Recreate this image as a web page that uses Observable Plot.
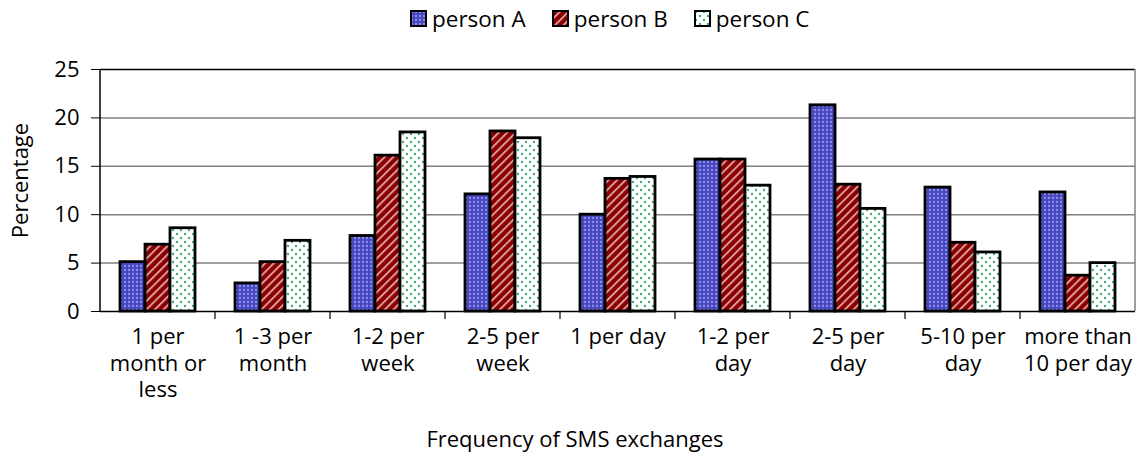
<!DOCTYPE html>
<html>
<head>
<meta charset="utf-8">
<script src="https://cdn.jsdelivr.net/npm/d3@7"></script>
<script src="https://cdn.jsdelivr.net/npm/@observablehq/plot@0.6"></script>
<style>
  html, body { margin: 0; padding: 0; background: #fff; color: #000; }
  body { width: 1142px; height: 459px; overflow: hidden; font-family: "Open Sans", sans-serif; }
  #legend { height: 36px; display: flex; align-items: center; padding-left: 410px; box-sizing: border-box; font-size: 22.5px; }
  .item { display: flex; align-items: center; margin-right: 26px; }
  .item svg { margin-right: 5px; }
  #chart svg { display: block; }
  #xtitle { height: 31px; line-height: 31px; font-size: 22px; text-align: center; padding-left: 8px; white-space: nowrap; }
</style>
</head>
<body>
<svg width="0" height="0" style="position:absolute">
  <defs>
    <pattern id="pA" width="4" height="4" patternUnits="userSpaceOnUse">
      <rect width="4" height="4" fill="#4646c0"></rect>
      <circle cx="2" cy="2" r="1.15" fill="#9292ea"></circle>
    </pattern>
    <pattern id="pB" width="6" height="6" patternUnits="userSpaceOnUse" patternTransform="rotate(45)">
      <rect width="6" height="6" fill="#8b0000"></rect>
      <rect x="0" width="1.6" height="6" fill="#e8b8b8"></rect>
    </pattern>
    <pattern id="pC" width="8" height="8" patternUnits="userSpaceOnUse">
      <rect width="8" height="8" fill="#ffffff"></rect>
      <circle cx="2" cy="2" r="1.2" fill="#3fae74"></circle>
      <circle cx="6" cy="6" r="1.2" fill="#3fae74"></circle>
    </pattern>
  </defs>
</svg>
<div id="legend"></div>
<div id="chart"></div>
<div id="xtitle">Frequency of SMS exchanges</div>
<script>
const categories = ["1 per\nmonth or\nless", "1 -3 per\nmonth", "1-2 per\nweek", "2-5 per\nweek", "1 per day", "1-2 per\nday", "2-5 per\nday", "5-10 per\nday", "more than\n10 per day"];
const persons = ["person A", "person B", "person C"];
const personA = [5.1, 2.9, 7.8, 12.1, 10.0, 15.7, 21.3, 12.8, 12.3];
const personB = [6.9, 5.1, 16.1, 18.6, 13.7, 15.7, 13.1, 7.1, 3.7];
const personC = [8.6, 7.3, 18.5, 17.9, 13.9, 13.0, 10.6, 6.1, 5.0];
const yTicks = [0, 5, 10, 15, 20, 25];
const gridTicks = [5, 10, 15, 20];
const fills = ["url(#pA)", "url(#pB)", "url(#pC)"];

const series = [personA, personB, personC];
const data = [];
categories.forEach((c, i) => persons.forEach((p, j) => data.push({cat: c, person: p, value: series[j][i]})));

// legend
const legend = document.getElementById("legend");
persons.forEach((p, j) => {
  const item = document.createElement("div");
  item.className = "item";
  item.innerHTML = `<svg width="17" height="17"><rect x="1" y="1" width="15" height="15" fill="${fills[j]}" stroke="#000" stroke-width="2"></rect></svg><span>${p}</span>`;
  legend.appendChild(item);
});

const plot = Plot.plot({
  width: 1142,
  height: 387,
  marginTop: 33,
  marginBottom: 112,
  marginLeft: 97,
  marginRight: 5,
  style: {fontFamily: "Open Sans", fontSize: "22px", color: "#000", background: "#fff"},
  fx: {domain: categories, padding: 0},
  x: {domain: persons, paddingInner: 0, paddingOuter: 0.74, axis: null},
  y: {domain: [0, 25]},
  color: {domain: persons, range: fills},
  marks: [
    Plot.gridY(gridTicks, {stroke: "#808080", strokeOpacity: 1, strokeWidth: 1.5}),
    Plot.ruleY([25], {stroke: "#000", strokeWidth: 1.5}),
    Plot.barY(data, {fx: "cat", x: "person", y: "value", fill: "person", stroke: "#000", strokeWidth: 2.8}),
    Plot.ruleY([0], {stroke: "#000", strokeWidth: 1.5}),
    Plot.axisY({ticks: yTicks, tickSize: 9, tickPadding: 12, label: "Percentage", labelAnchor: "center", labelOffset: 88, labelArrow: "none", stroke: "#000"}),
    Plot.axisFx({anchor: "bottom", tickSize: 0, tickPadding: 14, lineHeight: 1.2, label: null})
  ]
});
document.getElementById("chart").appendChild(plot);

// frame decorations drawn from Plot's own scales
const svg = d3.select(plot);
const y = plot.scale("y");
const fx = plot.scale("fx");
const y0 = y.apply(0), y25 = y.apply(25);
const left = fx.apply(categories[0]);
const right = fx.apply(categories[categories.length - 1]) + fx.bandwidth;
const g = svg.append("g");
g.append("line").attr("x1", right).attr("x2", right).attr("y1", y25).attr("y2", y0)
  .attr("stroke", "#808080").attr("stroke-width", 1.5);
g.append("line").attr("x1", left).attr("x2", left).attr("y1", y25).attr("y2", y0)
  .attr("stroke", "#000").attr("stroke-width", 1.5);
categories.slice(1).forEach(c => {
  const xx = fx.apply(c);
  g.append("line").attr("x1", xx).attr("x2", xx).attr("y1", y0).attr("y2", y0 + 8)
    .attr("stroke", "#000").attr("stroke-width", 1.2);
});
// nudge the y-axis title slightly upward, as in the reference
svg.selectAll('[aria-label="y-axis label"]').each(function() {
  const t = this.getAttribute("transform") || "";
  this.setAttribute("transform", "translate(0,-10) " + t);
});
</script>
</body>
</html>
